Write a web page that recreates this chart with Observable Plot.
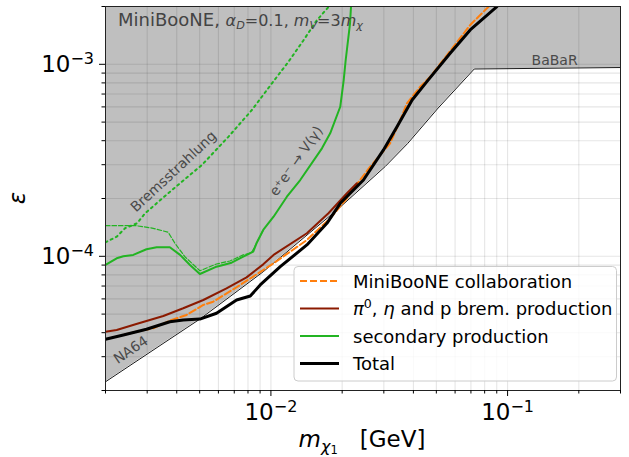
<!DOCTYPE html>
<html><head><meta charset="utf-8">
<script src="https://cdn.jsdelivr.net/npm/d3@7"></script>
<script src="https://cdn.jsdelivr.net/npm/@observablehq/plot@0.6"></script>
<style>
html,body{margin:0;padding:0;background:#fff;}
#chart{position:relative;width:629px;height:457px;}
</style></head><body><div id="chart"></div>
<script>
// ---- data (mass in GeV, epsilon) ----
const limitM   = [0.002, 0.00501, 0.00928, 0.019, 0.0304, 0.03784, 0.0509, 0.0723, 0.3];
const limitEps = [2.22e-5, 4.71e-5, 8.31e-5, 1.742e-4, 2.935e-4, 3.87e-4, 5.92e-4, 9.45e-4, 9.62e-4];

const totalM   = [0.002, 0.00238, 0.00298, 0.00374, 0.00426, 0.00501, 0.00589, 0.00716, 0.00818, 0.00901, 0.01095, 0.01419, 0.01724, 0.01963, 0.0246, 0.0299, 0.0341, 0.0395, 0.0456, 0.0572, 0.0695, 0.0901];
const totalEps = [3.70e-5, 3.89e-5, 4.17e-5, 4.56e-5, 4.66e-5, 4.71e-5, 5.05e-5, 5.92e-5, 6.21e-5, 7.09e-5, 8.83e-5, 1.146e-4, 1.485e-4, 1.888e-4, 2.496e-4, 3.58e-4, 4.73e-4, 6.52e-4, 8.12e-4, 1.141e-3, 1.509e-3, 1.995e-3];

const collabM   = [0.00238, 0.0027, 0.00318, 0.00374, 0.0044, 0.00518, 0.0057, 0.00716, 0.00928, 0.01026, 0.01419, 0.0178, 0.02095, 0.0216, 0.02627, 0.0319, 0.0352, 0.03755, 0.04274, 0.0471, 0.0591, 0.0695, 0.0831];
const collabEps = [3.89e-5, 4.05e-5, 4.22e-5, 4.62e-5, 4.95e-5, 5.58e-5, 5.8e-5, 6.9e-5, 8.48e-5, 9.19e-5, 1.216e-4, 1.577e-4, 2.004e-4, 2.129e-4, 2.93e-4, 3.88e-4, 5.13e-4, 6.26e-4, 7.64e-4, 8.62e-4, 1.235e-3, 1.602e-3, 1.995e-3];

const piM   = [0.002, 0.00223, 0.0027, 0.00351, 0.00426, 0.00518, 0.00649, 0.00789, 0.00928, 0.01026, 0.01419, 0.0175, 0.02095, 0.02308];
const piEps = [4.05e-5, 4.13e-5, 4.44e-5, 4.89e-5, 5.36e-5, 5.92e-5, 6.81e-5, 7.77e-5, 9.08e-5, 1.017e-4, 1.318e-4, 1.675e-4, 2.129e-4, 2.4e-4];

const secM   = [0.002, 0.00223, 0.00238, 0.00262, 0.00298, 0.00329, 0.00374, 0.00413, 0.00455, 0.00501, 0.00589, 0.00682, 0.00764, 0.00842, 0.00869, 0.00928, 0.01026, 0.01168, 0.0133, 0.01643, 0.0178, 0.01963, 0.0203, 0.0207, 0.02158, 0.0218];
const secEps = [9.01e-5, 9.76e-5, 1.0e-4, 1.017e-4, 1.088e-4, 1.114e-4, 1.114e-4, 1.017e-4, 9.01e-5, 8.09e-5, 8.83e-5, 9.26e-5, 9.95e-5, 1.057e-4, 1.169e-4, 1.371e-4, 1.608e-4, 2.044e-4, 2.496e-4, 3.65e-4, 4.37e-4, 6.01e-4, 8.28e-4, 1.053e-3, 1.622e-3, 2.0e-3];

const secAltM   = [0.002, 0.0027, 0.00318, 0.00368, 0.00393, 0.00433, 0.00501, 0.00589, 0.00671, 0.00764, 0.00828, 0.00869, 0.00928];
const secAltEps = [1.443e-4, 1.443e-4, 1.399e-4, 1.334e-4, 1.169e-4, 9.95e-5, 8.41e-5, 9.12e-5, 9.45e-5, 1.017e-4, 1.045e-4, 1.169e-4, 1.371e-4];

const bremM   = [0.002, 0.00223, 0.00242, 0.00272, 0.00294, 0.00382, 0.00511, 0.00662, 0.00831, 0.0101, 0.01187, 0.01369, 0.01558, 0.01746];
const bremEps = [1.183e-4, 1.265e-4, 1.4e-4, 1.486e-4, 1.675e-4, 2.215e-4, 2.99e-4, 4.2e-4, 5.78e-4, 7.96e-4, 1.032e-3, 1.327e-3, 1.687e-3, 1.981e-3];

// annotations inside the plot (data coordinates)
const noteText  = ["Bremsstrahlung", "e⁺e⁻ → V(γ)", "NA64", "BaBaR"];
const noteM     = [0.00388, 0.0128, 0.00256, 0.158];
const noteEps   = [2.76e-4, 3.13e-4, 3.25e-5, 1.05e-3];
const noteAngle = [-43, -55, -34, 0];
const noteItalic= [false, true, false, false];

// ticks
const xMajor = [0.01, 0.1];
const xMinor = [0.002,0.003,0.004,0.005,0.006,0.007,0.008,0.009,0.02,0.03,0.04,0.05,0.06,0.07,0.08,0.09,0.2,0.3];
const yMajor = [1e-4, 1e-3];
const yMinor = [2e-5,3e-5,4e-5,5e-5,6e-5,7e-5,8e-5,9e-5,2e-4,3e-4,4e-4,5e-4,6e-4,7e-4,8e-4,9e-4,2e-3];

const X_DOMAIN = [0.002, 0.3], Y_DOMAIN = [2e-5, 2e-3];
const C_GREEN = "#22b422", C_RED = "#8b1a00", C_ORANGE = "#ff7f0e";

const rows = (ms, es) => ms.map((m, i) => ({m, eps: es[i], top: Y_DOMAIN[1]}));
const notes = noteText.map((t, i) => ({t, m: noteM[i], eps: noteEps[i], a: noteAngle[i], it: noteItalic[i]}));

const gridStyle = {stroke: "black", strokeOpacity: 0.1, strokeWidth: 1.1};
const fmt = d => "10^" + Math.round(Math.log10(d));

const plot = Plot.plot({
  width: 629, height: 457,
  marginLeft: 105, marginRight: 9, marginTop: 6, marginBottom: 67,
  style: {fontFamily: "DejaVu Sans", color: "black", background: "white", overflow: "visible"},
  x: {type: "log", domain: X_DOMAIN, label: null},
  y: {type: "log", domain: Y_DOMAIN, label: null},
  marks: [
    Plot.areaY(rows(limitM, limitEps), {x: "m", y1: "eps", y2: "top", fill: "#bfbfbf", curve: "linear"}),
    Plot.ruleX(xMajor.concat(xMinor).filter(d => d > X_DOMAIN[0] && d < X_DOMAIN[1]), gridStyle),
    Plot.ruleY(yMajor.concat(yMinor).filter(d => d > Y_DOMAIN[0] && d < Y_DOMAIN[1]), gridStyle),
    Plot.line(rows(limitM, limitEps), {x: "m", y: "eps", stroke: "black", strokeWidth: 0.9, clip: true}),
    Plot.text(notes, {x: "m", y: "eps", text: "t", rotate: (d) => d.a, fill: "#4a4a4a", fontSize: 14,
      fontStyle: d => d.it ? "italic" : "normal", textAnchor: "middle"}),
    Plot.line(rows(bremM, bremEps), {x: "m", y: "eps", stroke: C_GREEN, strokeWidth: 2, strokeDasharray: "2,3.8", clip: true}),
    Plot.line(rows(secAltM, secAltEps), {x: "m", y: "eps", stroke: C_GREEN, strokeWidth: 1.2, strokeDasharray: "4.5,2", clip: true}),
    Plot.line(rows(collabM, collabEps), {x: "m", y: "eps", stroke: C_ORANGE, strokeWidth: 2, strokeDasharray: "7,3", clip: true}),
    Plot.line(rows(piM, piEps), {x: "m", y: "eps", stroke: C_RED, strokeWidth: 2, clip: true}),
    Plot.line(rows(secM, secEps), {x: "m", y: "eps", stroke: C_GREEN, strokeWidth: 2, clip: true}),
    Plot.line(rows(totalM, totalEps), {x: "m", y: "eps", stroke: "black", strokeWidth: 3, clip: true}),
    Plot.frame({stroke: "#222", strokeWidth: 1}),
    Plot.axisX(xMajor, {anchor: "bottom", tickSize: 6, tickPadding: 7, fontSize: 23, tickFormat: fmt, label: null}),
    Plot.axisX(xMinor, {anchor: "bottom", tickSize: 3.5, tickFormat: () => "", label: null}),
    Plot.axisY(yMajor, {anchor: "left", tickSize: 6, tickPadding: 5.5, fontSize: 23, tickFormat: fmt, label: null}),
    Plot.axisY(yMinor, {anchor: "left", tickSize: 3.5, tickFormat: () => "", label: null})
  ]
});
document.getElementById("chart").appendChild(plot);

const root = d3.select(plot);
// superscript tick labels
root.selectAll('g[aria-label="x-axis tick label"] text, g[aria-label="y-axis tick label"] text').each(function () {
  const t = d3.select(this), s = t.text();
  if (!s.includes("^")) return;
  const [b, e] = s.split("^");
  t.text(null);
  t.append("tspan").text(b);
  t.append("tspan").attr("dy", "-0.5em").attr("font-size", 16).text(e.replace("-", "\u2212"));
});

// helper for rich text runs
function runs(sel, parts) {
  let shift = 0;
  for (const p of parts) {
    const s = p.shift || 0;
    const ts = sel.append("tspan").text(p.t);
    if (s !== shift) ts.attr("dy", s - shift);
    if (p.it) ts.attr("font-style", "italic");
    if (p.size) ts.attr("font-size", p.size);
    shift = s;
  }
}

// title inside plot
const title = root.append("text").attr("x", 118).attr("y", 25.5).attr("font-size", 18)
  .attr("text-anchor", "start").attr("fill", "#444").attr("font-family", "DejaVu Sans");
const M = 16, S = 11.2;
runs(title, [
  {t: "MiniBooNE, "}, {t: "α", it: true, size: M}, {t: "D", it: true, size: S, shift: 3.5},
  {t: "=0.1, ", size: M}, {t: "m", it: true, size: M}, {t: "V", it: true, size: S, shift: 3.5},
  {t: "=3", size: M}, {t: "m", it: true, size: M}, {t: "χ", it: true, size: S, shift: 3.5}
]);

// x label
const xl = root.append("text").attr("x", 362).attr("y", 447).attr("font-size", 23)
  .attr("text-anchor", "middle").attr("fill", "black").attr("font-family", "DejaVu Sans");
runs(xl, [
  {t: "m", it: true}, {t: "χ", it: true, size: 16, shift: 4.5}, {t: "1", size: 11.5, shift: 7},
  {t: "\u00a0\u00a0\u00a0[GeV]", shift: 0}
]);

// y label
root.append("text").attr("transform", "translate(25,198) rotate(-90)").attr("text-anchor", "middle")
  .attr("font-size", 23).attr("font-style", "italic").attr("font-family", "DejaVu Sans").attr("fill", "black").text("ε");

// legend
const legendItems = [
  {parts: [{t: "MiniBooNE collaboration"}], stroke: C_ORANGE, w: 2, dash: "7,3"},
  {parts: [{t: "π", it: true}, {t: "0", size: 12.6, shift: -7}, {t: ", ", shift: 0}, {t: "η", it: true}, {t: " and p brem. production"}], stroke: C_RED, w: 2, dash: null},
  {parts: [{t: "secondary production"}], stroke: C_GREEN, w: 2, dash: null},
  {parts: [{t: "Total"}], stroke: "black", w: 3, dash: null}
];
const lg = root.append("g").attr("font-family", "DejaVu Sans").attr("text-anchor", "start");
lg.append("rect").attr("x", 294).attr("y", 266.5).attr("width", 322.5).attr("height", 114.5).attr("rx", 4)
  .attr("fill", "white").attr("fill-opacity", 0.8).attr("stroke", "#cccccc").attr("stroke-width", 1);
legendItems.forEach((it, i) => {
  const y = 281 + i * 27.5;
  const ln = lg.append("line").attr("x1", 300).attr("x2", 339).attr("y1", y).attr("y2", y)
    .attr("stroke", it.stroke).attr("stroke-width", it.w);
  if (it.dash) ln.attr("stroke-dasharray", it.dash);
  const tx = lg.append("text").attr("x", 353).attr("y", y + 6.5).attr("font-size", 18)
    .attr("text-anchor", "start").attr("fill", "black");
  runs(tx, it.parts);
});
</script></body></html>
